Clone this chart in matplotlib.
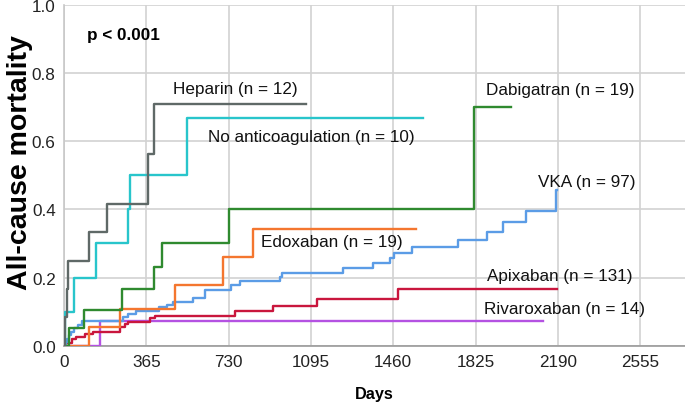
import matplotlib
matplotlib.use("Agg")
import matplotlib.pyplot as plt

plt.rcParams['font.family'] = ['Liberation Sans', 'DejaVu Sans']

# step curves: event times (days) and cumulative mortality after each step, last entry = end of follow-up
heparin_t = [0, 5, 12, 18, 111, 189, 374, 400, 1073]
heparin_v = [0, 0.083, 0.167, 0.25, 0.333, 0.417, 0.563, 0.708, 0.708]

noac_t = [0, 3, 44, 142, 286, 293, 547, 1591]
noac_v = [0, 0.1, 0.2, 0.3, 0.4, 0.5, 0.667, 0.667]

dabi_t = [0, 24, 89, 256, 401, 433, 733, 1820, 1982]
dabi_v = [0, 0.053, 0.105, 0.165, 0.23, 0.30, 0.40, 0.70, 0.70]

edox_t = [0, 112, 248, 492, 707, 840, 1561]
edox_v = [0, 0.054, 0.108, 0.178, 0.261, 0.342, 0.342]

vka_t = [0, 8, 15, 22, 30, 45, 60, 80, 263, 285, 320, 420, 455, 485, 573, 625,
         740, 781, 958, 965, 1239, 1372, 1446, 1462, 1542, 1749, 1875, 1946,
         2048, 2182, 2186]
vka_v = [0, 0.010, 0.021, 0.031, 0.041, 0.052, 0.062, 0.072, 0.083, 0.093, 0.103,
         0.113, 0.119, 0.129, 0.140, 0.164, 0.177, 0.189, 0.202, 0.214, 0.228,
         0.243, 0.257, 0.273, 0.290, 0.310, 0.335, 0.362, 0.396, 0.457, 0.457]

apix_t = [0, 9, 34, 53, 93, 130, 248, 270, 285, 381, 404, 758, 928, 1121, 1483, 2185]
apix_v = [0, 0.008, 0.02, 0.026, 0.034, 0.041, 0.054, 0.064, 0.07, 0.08, 0.088,
          0.103, 0.116, 0.137, 0.165, 0.165]

riva_t = [0, 160, 2126]
riva_v = [0, 0.0714, 0.0714]

labels = ["Heparin (n = 12)", "No anticoagulation (n = 10)", "Dabigatran (n = 19)",
          "VKA (n = 97)", "Edoxaban (n = 19)", "Apixaban (n = 131)", "Rivaroxaban (n = 14)"]
label_t = [483, 639, 1870, 2104, 874, 1875, 1863]
label_v = [0.756, 0.613, 0.753, 0.481, 0.306, 0.205, 0.108]

x_ticks = [0, 365, 730, 1095, 1460, 1825, 2190, 2555]
y_ticks = [0.0, 0.2, 0.4, 0.6, 0.8, 1.0]

fig = plt.figure(figsize=(6.85, 4.06), dpi=100)
ax = fig.add_axes([64 / 685, 1 - 346.7 / 406, 621 / 685, 340.7 / 406])

series = [
    (riva_t, riva_v, "#b452e2"),
    (apix_t, apix_v, "#c9163d"),
    (vka_t, vka_v, "#5b9ce6"),
    (edox_t, edox_v, "#f4762f"),
    (dabi_t, dabi_v, "#2f8a2f"),
    (noac_t, noac_v, "#28c5cb"),
    (heparin_t, heparin_v, "#5f6967"),
]
for t, v, c in series:
    ax.step(t, v, where="post", color=c, lw=1.7, zorder=3)

for lab, tx, ty in zip(labels, label_t, label_v):
    ax.text(tx, ty, lab, fontsize=12.3, va="center", ha="left", color="#111111", zorder=4)

ax.text(102, 0.912, "p < 0.001", fontsize=12.3, fontweight="bold", va="center", ha="left")

ax.set_xlim(0, 2754)
ax.set_ylim(0, 1.0)
ax.set_xticks(x_ticks)
ax.set_yticks(y_ticks)
ax.set_yticklabels([f"{y:.1f}" for y in y_ticks])
ax.tick_params(length=0, labelsize=12.3, colors="#222222", pad=6)
ax.grid(True, color="#d2d2d2", lw=1.2, zorder=0)
for s in ["top", "right"]:
    ax.spines[s].set_visible(False)
ax.spines["left"].set_color("#c8c8c8")
ax.spines["bottom"].set_color("#999999")
ax.spines["left"].set_linewidth(1.2)
ax.spines["bottom"].set_linewidth(1.2)

ax.set_xlabel("Days", fontsize=11.7, fontweight="bold", labelpad=12)
ax.set_ylabel("All-cause mortality", fontsize=20.5, fontweight="bold", va="center")
ax.yaxis.set_label_coords(-44 / 621, 0.54)

fig.savefig("out.png", dpi=100)
